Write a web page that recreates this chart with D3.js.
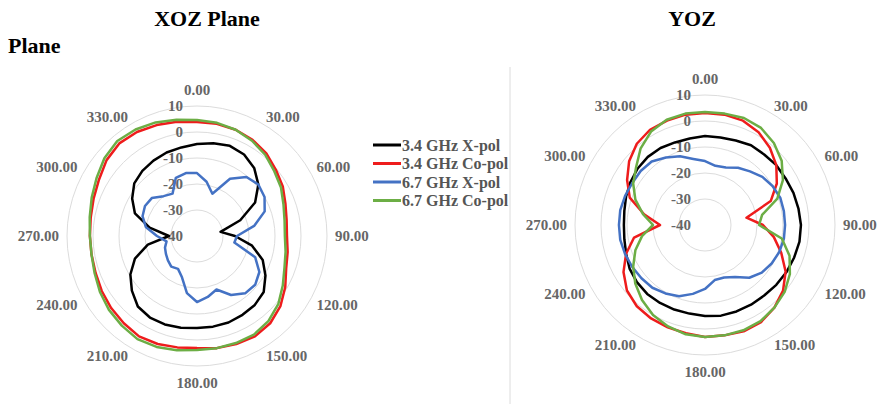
<!DOCTYPE html>
<html>
<head>
<meta charset="utf-8">
<script src="https://cdn.jsdelivr.net/npm/d3@7"></script>
<style>
body{margin:0;background:#fff;}
</style>
</head>
<body>
<div id="idChart"></div>
<script>
// categories (degrees) and tick labels
var aAngles=[0,10,20,30,40,50,60,70,80,90,100,110,120,130,140,150,160,170,180,190,200,210,220,230,240,250,260,270,280,290,300,310,320,330,340,350];
var aAngleTicks=[0,30,60,90,120,150,180,210,240,270,300,330];
var aDbTicks=[10,0,-10,-20,-30,-40];
var aSeriesNames=["3.4 GHz X-pol","3.4 GHz Co-pol","6.7 GHz X-pol","6.7 GHz Co-pol"];

// XOZ plane (dB)
var xozXpol34=[-4.6,-3.8,-3.1,-3.8,-5.8,-9.2,-14.2,-22.3,-30.8,-25.4,-18.5,-13.1,-9.6,-6.5,-5.4,-5.0,-4.6,-4.6,-4.6,-4.2,-3.8,-3.8,-4.6,-7.3,-10.4,-14.6,-20.8,-29.2,-21.5,-14.6,-11.2,-8.5,-7.3,-6.5,-5.8,-5.4];
var xozCopol34=[3.8,3.8,3.5,2.7,1.5,-0.4,-1.9,-3.8,-5.0,-5.4,-4.6,-3.5,-0.8,1.9,3.8,4.6,4.2,3.8,3.1,3.5,4.2,4.6,3.8,3.1,2.3,1.5,1.2,1.2,1.5,2.3,3.5,5.4,6.5,6.2,5.4,4.6];
var xozXpol67=[-15.8,-18.8,-22.7,-14.6,-10.4,-9.2,-10.0,-12.3,-17.7,-24.6,-25.4,-16.2,-12.3,-10.8,-11.2,-13.8,-18.1,-16.2,-14.6,-17.7,-23.1,-25.4,-24.6,-25.4,-26.2,-26.9,-28.1,-24.6,-20.0,-17.7,-16.9,-17.3,-20.0,-21.2,-16.2,-15.4];
var xozCopol67=[4.6,4.2,3.5,2.3,0.8,-1.2,-2.7,-4.6,-5.8,-6.2,-5.4,-4.2,-1.9,0.8,2.7,3.8,3.8,3.8,3.8,4.6,5.4,5.8,5.0,4.2,3.1,1.9,1.2,1.2,1.9,3.1,4.6,6.5,7.7,7.3,6.5,5.4];

// YOZ plane (dB)
var yozXpol34=[-5.8,-5.8,-5.4,-4.6,-4.6,-4.2,-4.2,-3.8,-3.5,-3.1,-3.1,-3.5,-3.8,-4.2,-4.6,-4.6,-4.6,-4.6,-5.0,-5.4,-5.4,-5.4,-5.4,-5.8,-6.5,-7.7,-8.5,-8.8,-8.5,-7.7,-6.9,-6.2,-5.8,-5.8,-6.2,-6.2];
var yozCopol34=[3.1,3.1,2.7,1.2,-1.2,-4.2,-8.1,-13.1,-23.8,-17.7,-13.1,-8.8,-4.2,-0.8,1.5,3.1,3.5,3.1,3.1,2.3,1.9,1.5,0.8,-0.8,-3.8,-7.7,-12.3,-22.7,-16.2,-9.2,-5.4,-1.9,0.8,2.3,2.7,3.1];
var yozXpol67=[-15.4,-16.9,-16.5,-14.6,-13.1,-11.2,-10.0,-9.2,-9.2,-9.2,-9.2,-9.6,-10.4,-11.5,-13.5,-16.9,-18.5,-18.5,-15.4,-13.1,-10.8,-9.6,-8.5,-8.1,-7.7,-7.3,-6.9,-6.9,-6.9,-7.3,-7.7,-7.7,-8.1,-10.0,-11.9,-14.2];
var yozCopol67=[3.5,3.5,3.8,3.1,1.2,-1.5,-5.4,-10.4,-17.7,-19.2,-10.0,-5.4,-2.3,0.0,1.5,2.7,3.1,3.1,3.1,2.7,1.5,0.0,-2.3,-5.0,-8.1,-11.5,-15.4,-20.0,-15.8,-11.5,-8.1,-5.4,-1.5,1.5,3.1,3.5];

var aColors=["#000000","#ee1c1c","#4472c4","#6cae45"];
var iWidth=879, iHeight=404, iRadius=130;

var svg=d3.select("#idChart").append("svg")
	.attr("width",iWidth)
	.attr("height",iHeight)
	.style("font-family","'Liberation Serif','Times New Roman',serif");

var rScale=d3.scaleLinear().domain([-40,10]).range([0,iRadius]);

function fDrawPolar(cx,cy,aSeries)
{
	var g=svg.append("g").attr("transform","translate("+cx+","+cy+")");

	g.selectAll(".ring")
		.data(aDbTicks.filter(function(d){return d>-40;}))
		.enter().append("circle")
			.attr("class","ring")
			.attr("r",function(d){return rScale(d);})
			.attr("fill","none")
			.attr("stroke","#dcdcdc")
			.attr("stroke-width",1);

	g.selectAll(".angTick")
		.data(aAngleTicks)
		.enter().append("text")
			.attr("class","angTick")
			.attr("x",function(d){return (iRadius+8)*Math.sin(d*Math.PI/180);})
			.attr("y",function(d){return -(iRadius+8)*Math.cos(d*Math.PI/180);})
			.attr("text-anchor",function(d){var s=Math.sin(d*Math.PI/180); return s>0.1?"start":(s<-0.1?"end":"middle");})
			.attr("dy",function(d){var c=Math.cos(d*Math.PI/180); return c>0.9?"-0.2em":(c<-0.9?"0.95em":"0.35em");})
			.attr("font-size",15)
			.attr("font-weight","bold")
			.attr("fill","#666666")
			.text(function(d){return d.toFixed(2);});

	g.selectAll(".dbTick")
		.data(aDbTicks)
		.enter().append("text")
			.attr("class","dbTick")
			.attr("x",-14)
			.attr("y",function(d){return -rScale(d);})
			.attr("dy","0.35em")
			.attr("text-anchor","end")
			.attr("font-size",15)
			.attr("font-weight","bold")
			.attr("fill","#666666")
			.text(function(d){return d;});

	var line=d3.lineRadial()
		.angle(function(d,i){return aAngles[i]*Math.PI/180;})
		.radius(function(d){return rScale(d);})
		.curve(d3.curveLinearClosed);

	g.selectAll(".trace")
		.data(aSeries)
		.enter().append("path")
			.attr("class","trace")
			.attr("d",function(d){return line(d);})
			.attr("fill","none")
			.attr("stroke",function(d,i){return aColors[i];})
			.attr("stroke-width",2.5)
			.attr("stroke-linejoin","round");
}

fDrawPolar(197,236,[xozXpol34,xozCopol34,xozXpol67,xozCopol67]);
fDrawPolar(705,225,[yozXpol34,yozCopol34,yozXpol67,yozCopol67]);

// divider
svg.append("line")
	.attr("x1",510).attr("x2",510)
	.attr("y1",67).attr("y2",iHeight)
	.attr("stroke","#dcdcdc").attr("stroke-width",1);

// legend
var legend=svg.selectAll(".legendRow")
	.data(aSeriesNames)
	.enter().append("g")
		.attr("class","legendRow")
		.attr("transform",function(d,i){return "translate(373,"+(145+i*18.5)+")";});
legend.append("line")
	.attr("x1",0).attr("x2",28)
	.attr("stroke",function(d,i){return aColors[i];})
	.attr("stroke-width",3);
legend.append("text")
	.attr("x",29).attr("dy","0.35em")
	.attr("font-size",16)
	.attr("font-weight","bold")
	.attr("fill","#555555")
	.text(function(d){return d;});

// titles
svg.append("text").attr("x",207).attr("y",26).attr("text-anchor","middle")
	.attr("font-size",22).attr("font-weight","bold").text("XOZ Plane");
svg.append("text").attr("x",692).attr("y",26).attr("text-anchor","middle")
	.attr("font-size",22).attr("font-weight","bold").text("YOZ");
svg.append("text").attr("x",8).attr("y",53)
	.attr("font-size",22).attr("font-weight","bold").text("Plane");
</script>
</body>
</html>
